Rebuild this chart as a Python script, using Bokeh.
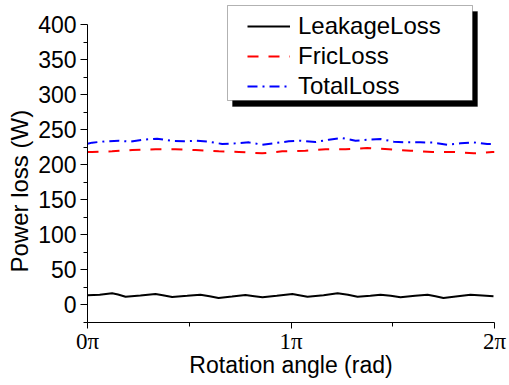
from bokeh.plotting import figure
from bokeh.models import (Range1d, FixedTicker, CustomJSTickFormatter, Legend, LegendItem,
                          BoxAnnotation, Title)
from bokeh.embed import file_html
from bokeh.resources import INLINE

# ---- data (x in units of pi) ----
leak_x = [0.0, 0.06, 0.121, 0.15, 0.187, 0.26, 0.334, 0.37, 0.416, 0.49, 0.555, 0.60, 0.644,
          0.71, 0.776, 0.82, 0.860, 0.93, 1.007, 1.04, 1.081, 1.16, 1.229, 1.28, 1.327, 1.39,
          1.440, 1.49, 1.538, 1.61, 1.671, 1.71, 1.749, 1.82, 1.882, 1.94, 1.995]
leak_y = [13.7, 14.5, 16.6, 15.0, 11.8, 13.5, 15.6, 14.0, 11.4, 13.0, 14.7, 12.5, 9.9,
          12.0, 14.2, 12.5, 10.9, 13.0, 15.6, 14.0, 11.8, 14.0, 16.6, 14.5, 11.8, 13.0,
          14.7, 13.0, 10.9, 13.0, 14.7, 12.5, 9.9, 12.5, 14.7, 13.5, 12.3]

fric_x = [0.0, 0.023, 0.121, 0.22, 0.334, 0.432, 0.531, 0.645, 0.744, 0.858, 0.957,
          1.071, 1.170, 1.268, 1.374, 1.481, 1.587, 1.694, 1.800, 1.898, 1.989, 2.0]
fric_y = [218.0, 218.2, 219.1, 221.0, 222.0, 222.0, 221.0, 219.1, 218.2, 216.3, 219.1,
          220.0, 222.0, 222.0, 223.8, 222.0, 220.0, 218.2, 218.2, 216.3, 218.2, 218.2]

total_x = [0.0, 0.023, 0.088, 0.154, 0.211, 0.277, 0.342, 0.408, 0.473, 0.531, 0.596,
           0.662, 0.727, 0.793, 0.858, 0.924, 0.989, 1.047, 1.120, 1.186, 1.251, 1.317,
           1.382, 1.440, 1.505, 1.571, 1.636, 1.702, 1.768, 1.833, 1.898, 1.964, 2.0]
total_y = [230.0, 231.5, 233.4, 234.3, 232.9, 235.7, 237.2, 234.3, 233.4, 234.3, 232.9,
           229.6, 230.5, 231.9, 228.6, 231.0, 233.4, 234.3, 232.4, 235.7, 238.1, 234.3,
           235.7, 236.7, 232.9, 231.9, 231.9, 231.5, 228.6, 230.5, 231.9, 229.6, 229.6]

x_ticks = [0, 1, 2]
x_minor = [0.5, 1.5]
y_ticks = [0, 50, 100, 150, 200, 250, 300, 350, 400]
y_minor = [-25, 25, 75, 125, 175, 225, 275, 325, 375]
names = ["LeakageLoss", "FricLoss", "TotalLoss"]

# ---- layout geometry (pixels) ----
W, H = 509, 385
L, R, B = 87, 15, 63
frame_w, frame_h = W - L - R, H - B
x_px_per = frame_w / 2.0
y_px_per = 298 / 425.0
y_start = -25
y_end = y_start + frame_h / y_px_per


def dx(px):
    return (px - L) / x_px_per


def dy(py):
    return y_start + (frame_h - py) / y_px_per


p = figure(width=W, height=H, x_range=Range1d(0, 2), y_range=Range1d(y_start, y_end),
           output_backend="svg", toolbar_location=None,
           min_border_left=L, min_border_right=R, min_border_top=0, min_border_bottom=B)
p.outline_line_color = None
p.xgrid.visible = False
p.ygrid.visible = False
p.background_fill_color = "white"
p.border_fill_color = "white"

r1 = p.line(leak_x, leak_y, line_color="black", line_width=2)
r2 = p.line(fric_x, fric_y, line_color="#ff0000", line_width=2, line_dash="11 10")
r3 = p.line(total_x, total_y, line_color="#0000ff", line_width=2, line_dash="10 5 2 5")

# axes
xa = p.xaxis[0]
xa.bounds = (0, 2)
xa.ticker = FixedTicker(ticks=x_ticks, minor_ticks=x_minor)
xa.formatter = CustomJSTickFormatter(code="return tick.toFixed(0) + '\u03c0'")
xa.major_tick_in = 0
xa.major_tick_out = 6
xa.minor_tick_in = 0
xa.minor_tick_out = 4
xa.major_label_text_font = "Liberation Serif"
xa.major_label_text_font_size = "23px"
xa.major_label_text_color = "black"
xa.major_label_standoff = 0
xa.axis_line_color = "black"
xa.axis_label = "Rotation angle (rad)"
xa.axis_label_text_font = "Liberation Sans"
xa.axis_label_text_font_size = "23px"
xa.axis_label_text_font_style = "normal"
xa.axis_label_text_color = "black"
xa.axis_label_standoff = -5

ya = p.yaxis[0]
ya.bounds = (-25, 400)
ya.ticker = FixedTicker(ticks=y_ticks, minor_ticks=y_minor)
ya.major_tick_in = 0
ya.major_tick_out = 7
ya.minor_tick_in = 0
ya.minor_tick_out = 4
ya.major_label_text_font = "Liberation Sans"
ya.major_label_text_font_size = "23px"
ya.major_label_text_color = "black"
ya.major_label_standoff = 4
ya.axis_line_color = "black"

p.add_layout(Title(text="Power loss (W)", align="left", offset=50, standoff=6,
                   text_font="Liberation Sans", text_font_size="24px",
                   text_font_style="normal", text_color="black"), "left")

# legend box with shadow
p.add_layout(BoxAnnotation(left=dx(232), right=dx(477), top=dy(11), bottom=dy(106),
                           fill_color="black", fill_alpha=1, line_color="black"))
p.add_layout(BoxAnnotation(left=dx(227), right=dx(472), top=dy(5), bottom=dy(100),
                           fill_color="white", fill_alpha=1, line_color="black", line_width=1))

legend = Legend(items=[LegendItem(label=names[0], renderers=[r1]),
                       LegendItem(label=names[1], renderers=[r2]),
                       LegendItem(label=names[2], renderers=[r3])],
                location=(247 - L, frame_h - 100.5))
legend.background_fill_alpha = 0
legend.border_line_alpha = 0
legend.padding = 0
legend.spacing = 0
legend.margin = 0
legend.glyph_width = 43
legend.glyph_height = 30
legend.label_height = 30
legend.label_standoff = 8
legend.label_text_font = "Liberation Sans"
legend.label_text_font_size = "24px"
legend.label_text_color = "black"
p.add_layout(legend)

open("out.html", "w").write(file_html(p, INLINE))
